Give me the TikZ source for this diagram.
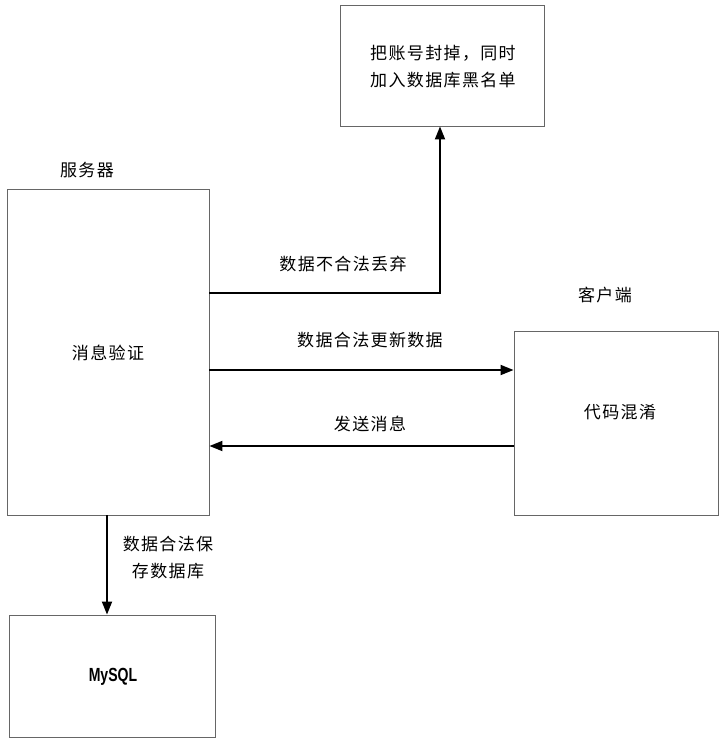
\documentclass[tikz,border=0pt]{standalone}
\usepackage{fontspec}
\setmainfont{Liberation Sans}
\newfontfamily\cjk[LetterSpace=8]{Noto Sans CJK SC}
\usetikzlibrary{arrows.meta}
\begin{document}
\begin{tikzpicture}[x=1pt,y=-1pt,
  box/.style={draw=black!60,line width=0.9pt,rectangle,inner sep=0pt},
  arr/.style={draw=black,line width=1.8pt,-{Triangle[length=13pt,width=10pt]}},
  lbl/.style={font=\cjk\fontsize{17}{27}\selectfont,inner sep=0pt,align=center}]
\useasboundingbox[fill=white] (0,0) rectangle (723,744);
% boxes
\node[box,minimum width=204pt,minimum height=121pt] (top) at (442,65.5) {};
\node[lbl] (toptext) at (443,66.5) {把账号封掉，同时\\加入数据库黑名单};
\node[box,minimum width=202pt,minimum height=326pt] (server) at (108,352) {};
\node[lbl] (servertext) at (108,353) {消息验证};
\node[lbl] (serverlbl) at (87,170) {服务器};
\node[box,minimum width=204pt,minimum height=184pt] (client) at (616,423) {};
\node[lbl] (clienttext) at (620,412) {代码混淆};
\node[lbl] (clientlbl) at (605,295) {客户端};
\node[box,minimum width=206pt,minimum height=122pt] (mysql) at (112,676) {};
\node[font=\bfseries\fontsize{19}{20}\selectfont,inner sep=0pt] (mysqltext) at (113,677) {\scalebox{0.74}[1]{MySQL}};
% connectors
\coordinate (c1) at (440,293);
\coordinate (c2) at (360,370);
\coordinate (c3) at (360,446);
\coordinate (c4) at (107,560);
\draw[arr] (c1 -| server.east) -- (c1) -- (c1 |- top.south);
\draw[arr] (c2 -| server.east) -- (c2 -| client.west);
\draw[arr] (c3 -| client.west) -- (c3 -| server.east);
\draw[arr] (c4 |- server.south) -- (c4 |- mysql.north);
% labels
\node[lbl] (l1) at (343,264) {数据不合法丢弃};
\node[lbl] (l2) at (370,340) {数据合法更新数据};
\node[lbl] (l3) at (370,424) {发送消息};
\node[lbl] (l4) at (168,558) {数据合法保\\存数据库};
\end{tikzpicture}
\end{document}
